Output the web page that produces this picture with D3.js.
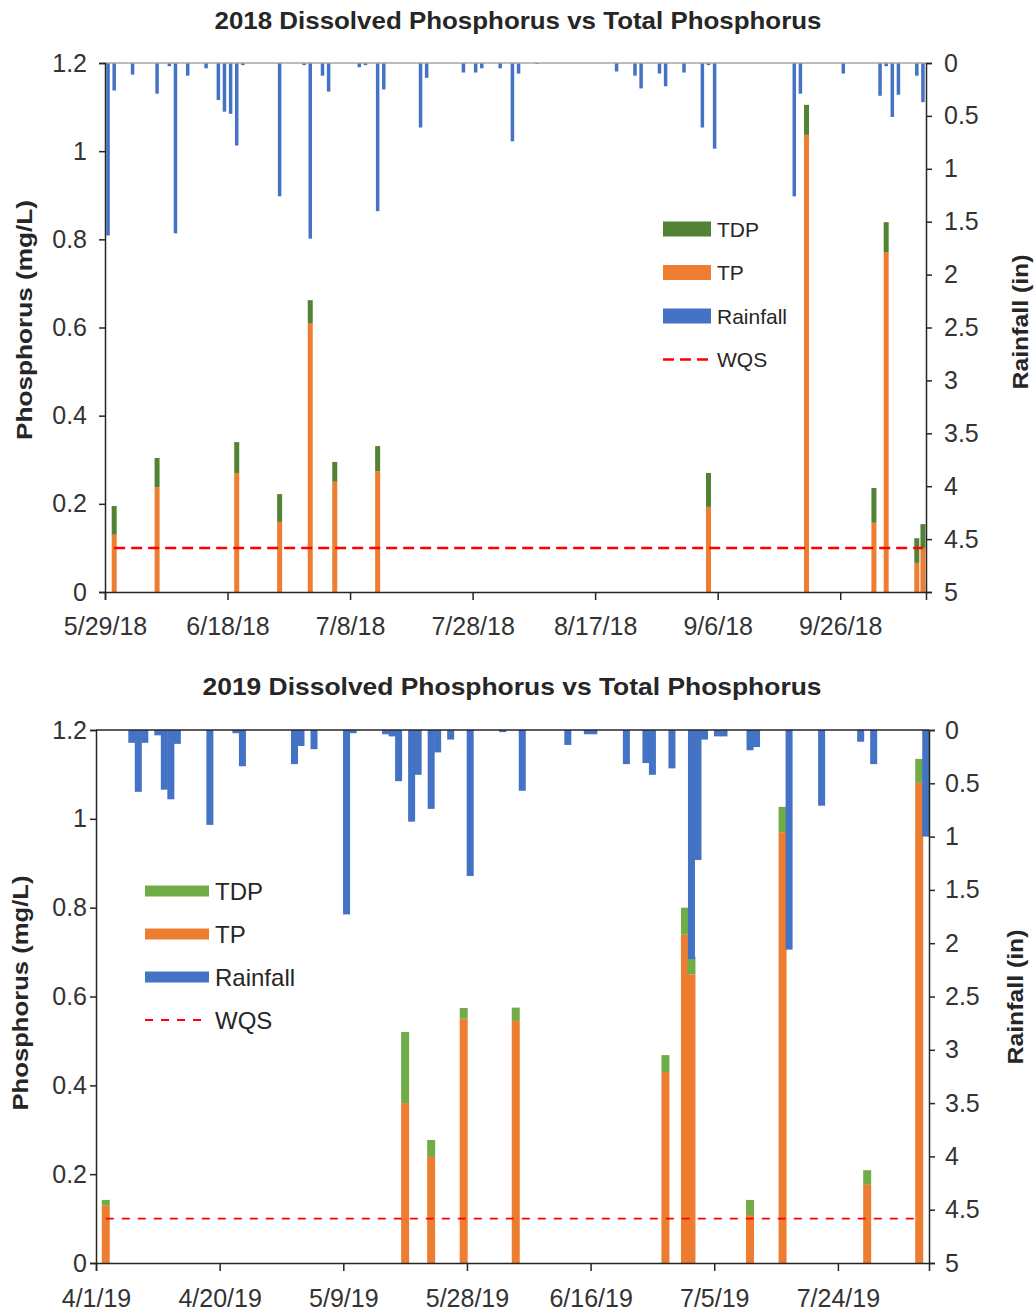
<!doctype html>
<html lang="en">
<head>
<meta charset="UTF-8">
<title>Dissolved Phosphorus vs Total Phosphorus</title>
<style>
  body { margin: 0; background: #fff; }
  svg text { font-family: "Liberation Sans", Arial, sans-serif; fill: #262626; }
  .axis .domain { stroke: #262626; stroke-width: 1.5px; }
  .axis .tick line { stroke: #262626; stroke-width: 1.5px; }
  .title { font-weight: bold; }
</style>
</head>
<body>
<svg id="chart" width="1034" height="1313"></svg>
<script src="https://d3js.org/d3.v7.min.js"></script>
<script>
// ---- 2018 data ----
const rainDates2018 = ['5/29/18','5/30/18','6/2/18','6/6/18','6/8/18','6/9/18','6/11/18','6/14/18','6/16/18','6/17/18',
  '6/18/18','6/19/18','6/20/18','6/26/18','6/30/18','7/1/18','7/3/18','7/4/18','7/9/18','7/10/18',
  '7/12/18','7/13/18','7/19/18','7/20/18','7/26/18','7/28/18','7/29/18','8/1/18','8/3/18','8/4/18',
  '8/7/18','8/20/18','8/23/18','8/24/18','8/27/18','8/28/18','8/31/18','9/3/18','9/4/18','9/5/18',
  '9/18/18','9/19/18','9/26/18','10/2/18','10/3/18','10/4/18','10/5/18','10/8/18','10/9/18']
const rain2018 = [1.63,0.26,0.11,0.29,0.03,1.61,0.12,0.05,0.35,0.46,
  0.48,0.78,0.02,1.26,0.02,1.66,0.12,0.27,0.04,0.02,
  1.40,0.25,0.61,0.14,0.09,0.09,0.05,0.05,0.74,0.10,
  0.01,0.08,0.12,0.24,0.10,0.22,0.09,0.61,0.02,0.81,
  1.26,0.29,0.10,0.31,0.03,0.51,0.30,0.12,0.37]
const sampleDates2018 = ['5/30/18','6/6/18','6/19/18','6/26/18','7/1/18','7/5/18','7/12/18','9/4/18','9/20/18','10/1/18','10/3/18','10/8/18','10/9/18']
const tp2018 = [0.13,0.238,0.27,0.159,0.61,0.25,0.274,0.193,1.037,0.157,0.771,0.066,0.10]
const tdp2018 = [0.065,0.066,0.07,0.063,0.052,0.045,0.057,0.077,0.068,0.079,0.068,0.056,0.054]
const xTicks2018 = ['5/29/18','6/18/18','7/8/18','7/28/18','8/17/18','9/6/18','9/26/18']

// ---- 2019 data ----
const rainDates2019 = ['4/6/19','4/7/19','4/8/19','4/10/19','4/11/19','4/12/19','4/13/19','4/18/19','4/22/19','4/23/19',
  '5/1/19','5/2/19','5/4/19','5/9/19','5/10/19','5/15/19','5/16/19','5/17/19','5/19/19','5/20/19',
  '5/22/19','5/23/19','5/25/19','5/28/19','6/2/19','6/5/19','6/12/19','6/15/19','6/16/19','6/21/19',
  '6/24/19','6/25/19','6/28/19','7/1/19','7/2/19','7/3/19','7/5/19','7/6/19','7/10/19','7/11/19',
  '7/16/19','7/21/19','7/27/19','7/29/19','8/6/19']
const rain2019 = [0.12,0.58,0.12,0.05,0.56,0.65,0.13,0.89,0.03,0.34,
  0.32,0.15,0.18,1.73,0.03,0.04,0.06,0.48,0.86,0.42,
  0.74,0.21,0.09,1.37,0.02,0.57,0.14,0.04,0.04,0.32,
  0.31,0.42,0.36,2.15,1.22,0.09,0.06,0.06,0.19,0.16,
  2.06,0.71,0.11,0.32,1.0]
const sampleDates2019 = ['4/2/19','5/18/19','5/22/19','5/27/19','6/4/19','6/27/19','6/30/19','7/1/19','7/10/19','7/15/19','7/28/19','8/5/19']
const tp2019 = [0.13,0.36,0.239,0.55,0.545,0.43,0.739,0.65,0.108,0.97,0.176,1.081]
const tdp2019 = [0.012,0.16,0.038,0.024,0.03,0.038,0.061,0.04,0.034,0.057,0.033,0.054]
const xTicks2019 = ['4/1/19','4/20/19','5/9/19','5/28/19','6/16/19','7/5/19','7/24/19']

const wqsValue = 0.1
const phTicks = [0, 0.2, 0.4, 0.6, 0.8, 1, 1.2]
const rainTicks = [0, 0.5, 1, 1.5, 2, 2.5, 3, 3.5, 4, 4.5, 5]
const legendLabels = ['TDP', 'TP', 'Rainfall', 'WQS']

const ORANGE = '#ED7D31'
const BLUE = '#4472C4'
const RED = '#FF0000'

const parse = d3.utcParse('%m/%d/%y')
const svg = d3.select('#chart')

function drawPanel (p) {
  const g = svg.append('g')
  const start = parse(p.start)
  const end = d3.utcDay.offset(start, p.days)
  const x = d3.scaleUtc().domain([start, end]).range([p.left, p.right])
  const day = x(d3.utcDay.offset(start, 1)) - x(start)
  const xc = s => x(parse(s)) + day / 2
  const y = d3.scaleLinear().domain([0, 1.2]).range([p.bottom, p.top])
  const yr = d3.scaleLinear().domain([0, 5]).range([p.top, p.bottom])

  // title
  g.append('text')
    .attr('class', 'title')
    .attr('x', p.titleX).attr('y', p.titleY)
    .attr('text-anchor', 'middle')
    .attr('textLength', p.titleLen).attr('lengthAdjust', 'spacingAndGlyphs')
    .style('font-size', '24px')
    .text(p.title)

  // stacked TP + TDP
  const rows = p.samples.map((d, i) => ({ date: d, TP: p.tp[i], TDP: p.tdp[i] }))
  const series = d3.stack().keys(['TP', 'TDP'])(rows)
  g.selectAll('g.ph')
    .data(series)
    .join('g')
    .attr('class', 'ph')
    .attr('fill', s => s.key === 'TP' ? ORANGE : p.green)
    .selectAll('rect')
    .data(s => s)
    .join('rect')
    .attr('x', d => xc(d.data.date) - p.barW / 2)
    .attr('width', p.barW)
    .attr('y', d => y(d[1]))
    .attr('height', d => y(d[0]) - y(d[1]))

  // rainfall hanging from the top
  const rainRows = p.rainDates.map((d, i) => ({ date: d, v: p.rain[i] }))
  g.selectAll('rect.rain')
    .data(rainRows)
    .join('rect')
    .attr('class', 'rain')
    .attr('fill', BLUE)
    .attr('x', d => xc(d.date) - p.rainW / 2)
    .attr('width', p.rainW)
    .attr('y', yr(0))
    .attr('height', d => yr(d.v) - yr(0))

  // WQS line
  const line = d3.line().x(d => xc(d)).y(() => y(wqsValue))
  g.append('path')
    .attr('d', line(p.samples))
    .attr('fill', 'none')
    .attr('stroke', RED)
    .attr('stroke-width', p.wqsW)
    .attr('stroke-dasharray', p.wqsDash)

  // top frame line
  g.append('line')
    .attr('x1', p.left).attr('x2', p.right)
    .attr('y1', p.top).attr('y2', p.top)
    .attr('stroke', p.topLine).attr('stroke-width', 1.5)

  // axes
  const xAxis = d3.axisBottom(x)
    .tickValues(p.xTicks.map(parse))
    .tickFormat((d, i) => p.xTicks[i])
    .tickSize(8).tickPadding(p.xPad)
  g.append('g').attr('class', 'axis')
    .attr('transform', `translate(0,${p.bottom})`)
    .call(xAxis)
    .selectAll('text').style('font-size', '25px').style('fill', '#333')

  g.append('g').attr('class', 'axis')
    .attr('transform', `translate(${p.left},0)`)
    .call(d3.axisLeft(y).tickValues(phTicks).tickFormat(d3.format('~g')).tickSize(6).tickPadding(p.yPad))
    .selectAll('text').style('font-size', '25px').style('fill', '#333')

  g.append('g').attr('class', 'axis')
    .attr('transform', `translate(${p.right},0)`)
    .call(d3.axisRight(yr).tickValues(rainTicks).tickFormat(d3.format('~g')).tickSize(6).tickPadding(p.ryPad))
    .selectAll('text').style('font-size', '25px').style('fill', '#333')

  // axis titles
  g.append('text')
    .attr('class', 'title')
    .attr('transform', `translate(${p.yTitleX},${p.yTitleY}) rotate(-90)`)
    .attr('text-anchor', 'middle')
    .attr('textLength', p.yTitleLen).attr('lengthAdjust', 'spacingAndGlyphs')
    .style('font-size', '22px')
    .text('Phosphorus (mg/L)')

  g.append('text')
    .attr('class', 'title')
    .attr('transform', `translate(${p.ryTitleX},${p.ryTitleY}) rotate(-90)`)
    .attr('text-anchor', 'middle')
    .attr('textLength', p.ryTitleLen).attr('lengthAdjust', 'spacingAndGlyphs')
    .style('font-size', '22px')
    .text('Rainfall (in)')

  // legend
  const lg = g.append('g').attr('transform', `translate(${p.legX},${p.legY})`)
  const colors = [p.green, ORANGE, BLUE, null]
  legendLabels.forEach((label, i) => {
    const row = lg.append('g').attr('transform', `translate(0,${i * p.legGap})`)
    if (colors[i]) {
      row.append('rect')
        .attr('x', 0).attr('y', -p.swH / 2)
        .attr('width', p.swW).attr('height', p.swH)
        .attr('fill', colors[i])
    } else {
      row.append('line')
        .attr('x1', 0).attr('x2', p.swW)
        .attr('stroke', RED).attr('stroke-width', p.wqsW)
        .attr('stroke-dasharray', p.wqsDash)
    }
    row.append('text')
      .attr('x', p.swW + 6).attr('dy', '0.36em')
      .style('font-size', p.legFont + 'px')
      .text(label)
  })
}

drawPanel({
  title: '2018 Dissolved Phosphorus vs Total Phosphorus',
  titleX: 518, titleY: 29, titleLen: 607,
  start: '5/29/18', days: 134,
  left: 105, right: 926, top: 63, bottom: 592,
  rainDates: rainDates2018, rain: rain2018,
  samples: sampleDates2018, tp: tp2018, tdp: tdp2018,
  xTicks: xTicks2018,
  green: '#548235', barW: 5, rainW: 3.5,
  wqsW: 2.5, wqsDash: '11,6', topLine: '#a6a6a6',
  xPad: 17, yPad: 12, ryPad: 12,
  yTitleX: 32, yTitleY: 320, yTitleLen: 240,
  ryTitleX: 1028, ryTitleY: 322, ryTitleLen: 135,
  legX: 663, legY: 229, legGap: 43.5, swW: 48, swH: 15, legFont: 21
})

drawPanel({
  title: '2019 Dissolved Phosphorus vs Total Phosphorus',
  titleX: 512, titleY: 695, titleLen: 619,
  start: '4/1/19', days: 128,
  left: 96, right: 929, top: 730, bottom: 1263,
  rainDates: rainDates2019, rain: rain2019,
  samples: sampleDates2019, tp: tp2019, tdp: tdp2019,
  xTicks: xTicks2019,
  green: '#70AD47', barW: 8, rainW: 7,
  wqsW: 1.8, wqsDash: '8,8', topLine: '#262626',
  xPad: 18, yPad: 3, ryPad: 10,
  yTitleX: 28, yTitleY: 993, yTitleLen: 235,
  ryTitleX: 1023, ryTitleY: 997, ryTitleLen: 135,
  legX: 145, legY: 891, legGap: 43, swW: 64, swH: 11, legFont: 24
})
</script>
</body>
</html>
